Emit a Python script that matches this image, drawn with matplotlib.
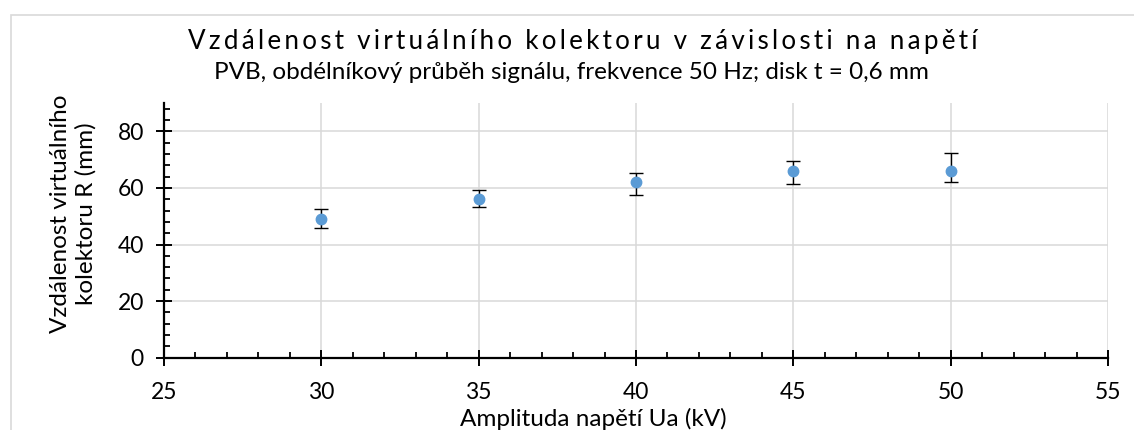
import matplotlib.pyplot as plt
import matplotlib.patches as mpatches
from matplotlib.ticker import MultipleLocator

# data
napeti = [30, 35, 40, 45, 50]            # kV
vzdalenost = [49, 56, 62, 66, 66]        # mm
chyba_dolu = [3.3, 2.7, 4.6, 4.6, 4.0]
chyba_nahoru = [3.7, 3.2, 3.4, 3.5, 6.3]

plt.rcParams['font.family'] = ['Lato', 'DejaVu Sans']

W, H = 1134, 430
fig = plt.figure(figsize=(W / 100, H / 100), dpi=100)
ax = fig.add_axes([164 / W, 1 - 357.7 / H, (1108 - 164) / W, (357.7 - 103) / H])

# light chart-area border
fig.patches.append(mpatches.Rectangle((11 / W, -0.1), 1.2, 1 - 15 / H + 0.1,
                                      transform=fig.transFigure, fill=False,
                                      edgecolor='#d9d9d9', lw=1.2, zorder=0))

ax.errorbar(napeti, vzdalenost, yerr=[chyba_dolu, chyba_nahoru], fmt='o',
            color='#5b9bd5', markersize=7.5, ecolor='black', elinewidth=1.0,
            capsize=5, capthick=1.0, zorder=3)

ax.set_xlim(25, 55)
ax.set_ylim(0, 90)
ax.xaxis.set_major_locator(MultipleLocator(5))
ax.xaxis.set_minor_locator(MultipleLocator(1))
ax.yaxis.set_major_locator(MultipleLocator(20))
ax.yaxis.set_minor_locator(MultipleLocator(4))

ax.grid(True, which='major', color='#d9d9d9', lw=1.1, zorder=0)
ax.set_axisbelow(True)
for s in ['top', 'right']:
    ax.spines[s].set_visible(False)
for s in ['left', 'bottom']:
    ax.spines[s].set_linewidth(1.6)
ax.tick_params(which='major', direction='inout', length=11, width=1.4,
               labelsize=16.5, colors='black')
ax.tick_params(axis='x', which='major', pad=12)
ax.tick_params(axis='y', which='major', pad=9)
ax.tick_params(which='minor', direction='in', length=4.5, width=1.3)

# Excel-style letter spaced title
titulek = 'Vzdálenost virtuálního kolektoru v závislosti na napětí'
fig.text(583 / W, 1 - 49 / H, '\u2009'.join(titulek),
         ha='center', va='baseline', fontsize=18.7)
fig.text(571 / W, 1 - 79 / H, 'PVB, obdélníkový průběh signálu, frekvence 50 Hz; disk t = 0,6 mm',
         ha='center', va='baseline', fontsize=17.5)
fig.text(593 / W, 1 - 426 / H, 'Amplituda napětí Ua (kV)',
         ha='center', va='baseline', fontsize=17.5)
fig.text(73 / W, 1 - 214 / H, 'Vzdálenost virtuálního\nkolektoru R (mm)',
         ha='center', va='center', rotation=90, fontsize=17.5, linespacing=1.25)

fig.savefig('out.png', dpi=100)
